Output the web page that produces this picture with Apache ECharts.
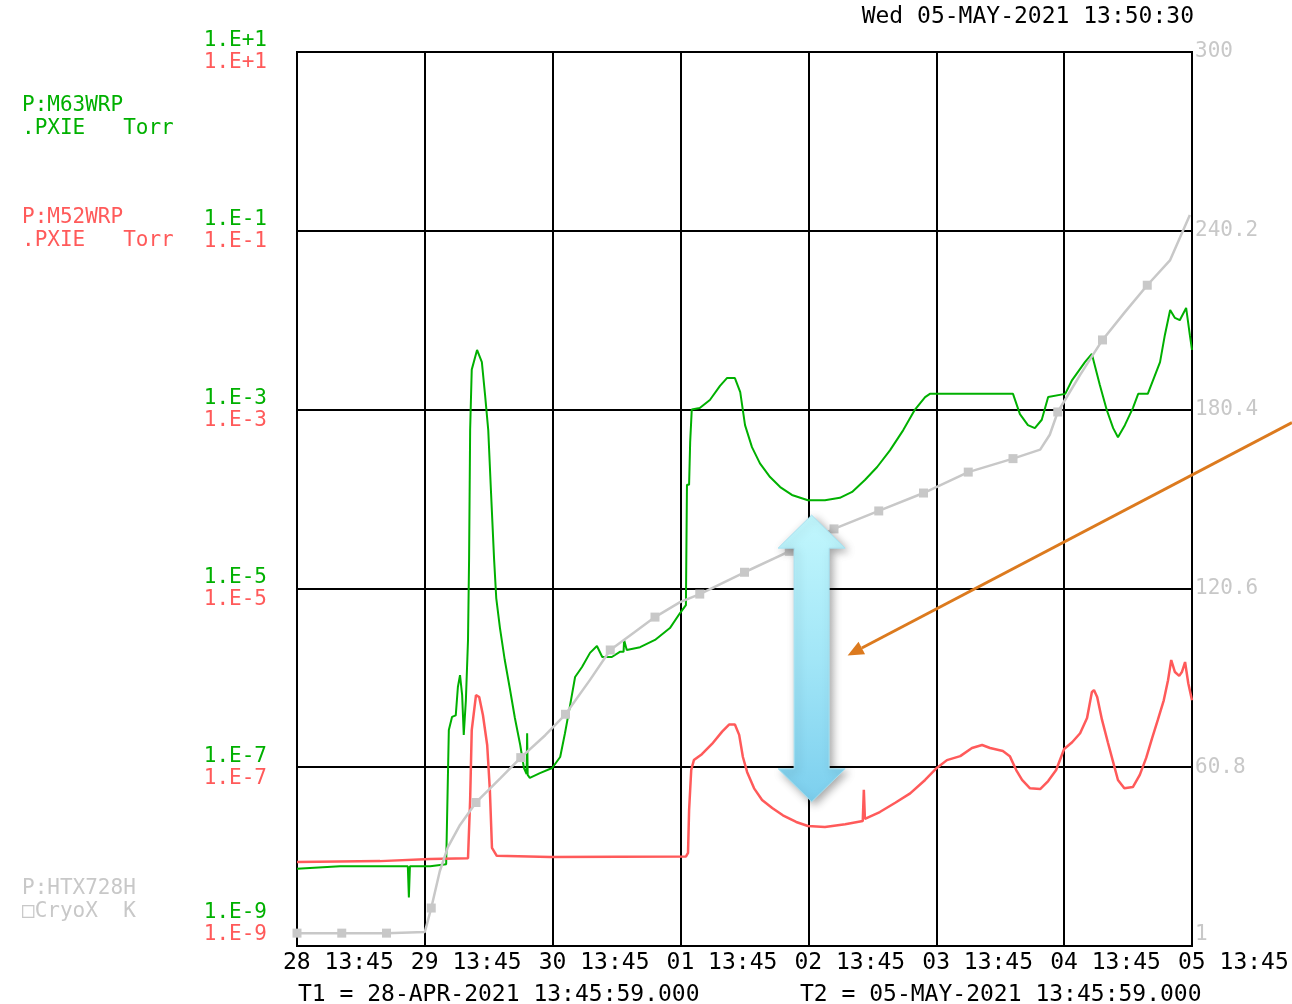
<!DOCTYPE html>
<html>
<head>
<meta charset="utf-8">
<script src="https://cdn.jsdelivr.net/npm/echarts@6/dist/echarts.min.js"></script>
<style>
  html, body { margin: 0; padding: 0; background: #fff; }
  #chart { width: 1292px; height: 1004px; }
</style>
</head>
<body>
<div id="chart"></div>
<script>
// Time axis: hours since T1 (28-APR-2021 13:45:59), one gridline per day
const timeTicks = ['28 13:45', '29 13:45', '30 13:45', '01 13:45', '02 13:45', '03 13:45', '04 13:45', '05 13:45'];
// Right-hand temperature scale (K)
const kelvinTicks = [1, 60.8, 120.6, 180.4, 240.2, 300];

// P:M63WRP.PXIE pressure (Torr)
const m63Hours = [0, 8.1, 20.8, 21.0, 21.2, 25.0, 28.0, 28.5, 29.1, 29.8, 30.2, 30.6, 31.0, 31.3, 31.7, 32.1, 32.3, 32.5, 32.8, 33.8,
  34.7, 35.3, 35.9, 36.4, 37.0, 37.4, 38.1, 39.0, 40.0, 40.9, 41.9, 42.6, 43.1, 43.2, 43.3, 43.7, 45.6, 47.9, 49.4, 50.3,
  51.2, 52.2, 53.5, 55.0, 56.3, 57.3, 59.1, 60.6, 61.3, 61.4, 61.9, 64.4, 67.2, 70.0, 71.9, 73.0, 73.2, 73.6, 73.8, 74.1,
  75.6, 77.5, 79.4, 80.7, 82.2, 83.2, 84.1, 85.4, 86.9, 88.8, 90.7, 92.9, 95.9, 99.1, 101.9, 104.2, 106.6, 108.9, 111.3, 113.8,
  116.0, 117.9, 118.8, 134.4, 135.7, 137.2, 138.5, 139.8, 141.0, 144.2, 145.5, 147.9, 149.2, 150.7, 152.0, 153.2, 154.1, 155.4, 156.9, 157.9,
  159.7, 162.0, 162.9, 163.9, 164.8, 165.7, 166.9, 167.6, 168.0];
const m63Torr = [7.3e-9, 7.8e-9, 7.8e-9, 3.5e-9, 7.8e-9, 7.8e-9, 8.2e-9, 2.6e-7, 3.65e-7, 3.8e-7, 7.9e-7, 1.07e-6, 6.4e-7, 2.3e-7, 5.6e-7, 2.65e-6, 2.1e-5, 5.9e-4, 2.8e-3, 4.65e-3,
  3.4e-3, 1.46e-3, 5.9e-4, 1.26e-4, 2.1e-5, 7.8e-6, 3.6e-6, 1.58e-6, 7.3e-7, 3.55e-7, 1.77e-7, 9.8e-8, 8.4e-8, 2.4e-7, 8.2e-8, 7.6e-8, 8.6e-8, 9.8e-8, 1.3e-7, 2.4e-7,
  4.7e-7, 1.02e-6, 1.32e-6, 1.9e-6, 2.27e-6, 1.71e-6, 1.71e-6, 1.95e-6, 1.95e-6, 2.65e-6, 2.05e-6, 2.2e-6, 2.65e-6, 3.6e-6, 5.3e-6, 6.5e-6, 1.44e-4, 1.44e-4, 4.3e-4, 1.0e-3,
  1.04e-3, 1.28e-3, 1.84e-3, 2.25e-3, 2.25e-3, 1.57e-3, 6.7e-4, 3.8e-4, 2.5e-4, 1.76e-4, 1.36e-4, 1.11e-4, 9.7e-5, 9.7e-5, 1.03e-4, 1.2e-4, 1.63e-4, 2.28e-4, 3.5e-4, 5.9e-4,
  1.0e-3, 1.38e-3, 1.5e-3, 1.5e-3, 8.9e-4, 6.7e-4, 6.2e-4, 7.7e-4, 1.38e-3, 1.5e-3, 2.14e-3, 3.4e-3, 4.2e-3, 1.88e-3, 9.9e-4, 6.2e-4, 4.9e-4, 6.7e-4, 1.04e-3, 1.5e-3,
  1.5e-3, 3.4e-3, 6.8e-3, 1.3e-2, 1.06e-2, 1.0e-2, 1.37e-2, 6.8e-3, 4.65e-3];

// P:M52WRP.PXIE pressure (Torr)
const m52Hours = [0, 15.6, 25.0, 32.1, 32.5, 32.8, 33.6, 34.2, 34.9, 35.7, 36.2, 36.6, 37.5, 47.5, 73.0, 73.4, 73.6, 74.0, 74.5, 76.0,
  77.9, 79.8, 81.1, 82.2, 83.0, 83.7, 84.5, 85.8, 87.3, 89.2, 91.2, 93.7, 95.9, 99.1, 102.9, 106.2, 106.4, 106.6, 109.4, 112.3,
  115.1, 117.9, 120.1, 122.0, 124.5, 126.7, 128.6, 130.1, 132.5, 133.8, 135.0, 136.1, 137.6, 139.5, 141.0, 142.5, 144.0, 145.5, 147.0, 148.3,
  149.2, 149.6, 150.2, 151.1, 152.2, 153.2, 154.1, 155.3, 156.9, 158.2, 159.4, 160.5, 161.6, 162.7, 163.5, 164.1, 164.8, 165.6, 166.1, 166.7,
  167.3, 168.0];
const m52Torr = [8.7e-9, 8.9e-9, 9.4e-9, 9.6e-9, 4.3e-8, 2.6e-7, 6.4e-7, 6.1e-7, 3.84e-7, 1.77e-7, 5.6e-8, 1.25e-8, 1.02e-8, 9.9e-9, 1.0e-8, 1.1e-8, 3.3e-8, 9.3e-8, 1.2e-7, 1.4e-7,
  1.82e-7, 2.5e-7, 3.0e-7, 3.0e-7, 2.3e-7, 1.3e-7, 8.8e-8, 5.8e-8, 4.3e-8, 3.5e-8, 2.9e-8, 2.44e-8, 2.2e-8, 2.14e-8, 2.3e-8, 2.5e-8, 5.6e-8, 2.64e-8, 3.15e-8, 4.0e-8,
  5.1e-8, 7.2e-8, 9.8e-8, 1.2e-7, 1.33e-7, 1.64e-7, 1.77e-7, 1.64e-7, 1.52e-7, 1.33e-7, 9.3e-8, 7.2e-8, 5.8e-8, 5.7e-8, 7.0e-8, 9.3e-8, 1.6e-7, 1.9e-7, 2.4e-7, 3.55e-7,
  6.9e-7, 7.3e-7, 6.1e-7, 3.4e-7, 1.9e-7, 1.14e-7, 7.2e-8, 5.8e-8, 6.0e-8, 8.2e-8, 1.27e-7, 2.1e-7, 3.4e-7, 5.6e-7, 9.4e-7, 1.58e-6, 1.16e-6, 1.05e-6, 1.16e-6, 1.5e-6,
  8.7e-7, 5.6e-7];

// P:HTX728H CryoX temperature (K); logged samples every 8.4 h carry a marker
const htxHours = [0, 8.4, 16.8, 24.0, 25.2, 26.8, 28.3, 30.6, 33.6, 38.1, 42.0, 46.6, 50.4, 55.0, 58.8, 63.4, 67.2, 71.9, 75.6, 84.0,
  92.4, 100.8, 109.2, 117.6, 126.0, 134.4, 139.5, 141.3, 142.8, 147.0, 151.2, 155.4, 159.6, 163.9, 167.6];
const htxKelvin = [5.3, 5.3, 5.3, 5.7, 13.7, 26, 34, 41.5, 49, 57, 64, 71.5, 78.5, 90, 100, 106, 111, 116, 118.7, 126,
  133, 140.5, 146.5, 152.5, 159.5, 164, 167, 172, 179.6, 192, 203.7, 213, 222, 230.4, 245.5];
const htxSampleStep = 8.4;

// Callout: gap between the two gauges at 02 13:45
const gapHour = 96.6;
const gapTopTorr = 6.6e-5;
const gapBottomTorr = 4.1e-8;

const FONT = 'DejaVu Sans Mono';
const GREEN = '#00b000';
const RED = '#ff5a5a';
const GRAY = '#c8c8c8';

function expLabel(v) {
  const e = Math.round(Math.log10(v));
  return '1.E' + (e >= 0 ? '+' : '-') + Math.abs(e);
}

const chart = echarts.init(document.getElementById('chart'), null, { renderer: 'canvas' });

const pair = (xs, ys) => xs.map((x, i) => [x, ys[i]]);

const htxData = htxHours.map((h, i) => {
  const k = h / htxSampleStep;
  const marked = Math.abs(k - Math.round(k)) < 0.02;
  return { value: [h, htxKelvin[i]], symbol: marked ? 'rect' : 'none' };
});

const logAxisBase = {
  type: 'log', logBase: 10, min: 1e-9, max: 10, interval: 2, position: 'left',
  axisLine: { show: false }, axisTick: { show: false }
};

chart.setOption({
  animation: false,
  backgroundColor: '#ffffff',
  grid: { left: 297, top: 52, width: 895, height: 894, show: true, borderColor: '#000', borderWidth: 2 },
  xAxis: {
    type: 'value', min: 0, max: 168, interval: 24,
    axisLine: { show: false }, axisTick: { show: false },
    splitLine: { show: true, lineStyle: { color: '#000', width: 2 } },
    axisLabel: {
      fontFamily: FONT, fontSize: 23, color: '#000', align: 'left', margin: 6,
      padding: [0, 0, 0, -14],
      formatter: v => timeTicks[Math.round(v / 24)]
    }
  },
  yAxis: [
    Object.assign({}, logAxisBase, {
      splitLine: { show: true, lineStyle: { color: '#000', width: 2 } },
      axisLabel: {
        fontFamily: FONT, fontSize: 21, color: GREEN, margin: 30, lineHeight: 22, verticalAlign: 'middle',
        formatter: v => Math.round(Math.log10(v)) === -9 ? expLabel(v) + '\n\n\n' : expLabel(v) + '\n'
      }
    }),
    Object.assign({}, logAxisBase, {
      splitLine: { show: false },
      axisLabel: {
        fontFamily: FONT, fontSize: 21, color: RED, margin: 30, lineHeight: 22, verticalAlign: 'middle',
        formatter: v => Math.round(Math.log10(v)) === -9 ? expLabel(v) + '\n' : '\n' + expLabel(v)
      }
    }),
    {
      type: 'value', min: 1, max: 300, interval: 59.8, position: 'right',
      axisLine: { show: false }, axisTick: { show: false }, splitLine: { show: false },
      axisLabel: {
        fontFamily: FONT, fontSize: 21, color: GRAY, margin: 3, lineHeight: 22, verticalAlign: 'middle',
        formatter: v => {
          const t = kelvinTicks.reduce((a, b) => Math.abs(b - v) < Math.abs(a - v) ? b : a);
          return t === 1 ? '1\n' : String(t);
        }
      }
    }
  ],
  series: [
    {
      name: 'P:M63WRP', type: 'line', yAxisIndex: 0, data: pair(m63Hours, m63Torr),
      showSymbol: false, lineStyle: { color: GREEN, width: 2 }, z: 3
    },
    {
      name: 'P:M52WRP', type: 'line', yAxisIndex: 1, data: pair(m52Hours, m52Torr),
      showSymbol: false, lineStyle: { color: RED, width: 2.5 }, z: 4
    },
    {
      name: 'P:HTX728H', type: 'line', yAxisIndex: 2, data: htxData,
      showAllSymbol: true, symbolSize: 9, itemStyle: { color: GRAY },
      lineStyle: { color: GRAY, width: 2.5 }, z: 5
    }
  ]
});

// Annotation geometry, positioned from data coordinates
const topPt = chart.convertToPixel({ xAxisIndex: 0, yAxisIndex: 0 }, [gapHour, gapTopTorr]);
const botPt = chart.convertToPixel({ xAxisIndex: 0, yAxisIndex: 0 }, [gapHour, gapBottomTorr]);
const cx = topPt[0], y0 = topPt[1], y1 = botPt[1];
const headLen = 33, headHalf = 33.5, shaftHalf = 17.5;
const arrowPts = [
  [cx, y0], [cx + headHalf, y0 + headLen], [cx + shaftHalf, y0 + headLen],
  [cx + shaftHalf, y1 - headLen], [cx + headHalf, y1 - headLen], [cx, y1],
  [cx - headHalf, y1 - headLen], [cx - shaftHalf, y1 - headLen],
  [cx - shaftHalf, y0 + headLen], [cx - headHalf, y0 + headLen]
];
const midY = (y0 + y1) / 2;
const tip = [cx + 36, midY - 3];
const tail = [1292, midY - 236];
const ang = Math.atan2(tip[1] - tail[1], tip[0] - tail[0]);
const aLen = 16, aHalf = 7;
const back = [tip[0] - aLen * Math.cos(ang), tip[1] - aLen * Math.sin(ang)];
const headPts = [
  tip,
  [back[0] + aHalf * Math.sin(ang), back[1] - aHalf * Math.cos(ang)],
  [back[0] - aHalf * Math.sin(ang), back[1] + aHalf * Math.cos(ang)]
];

function label(text, x, y, color, size, align, weight) {
  return {
    type: 'text', x: x, y: y, silent: true, z: 20,
    style: {
      text: text, fill: color, font: (weight || 'normal') + ' ' + size + 'px "' + FONT + '"',
      align: align || 'left', verticalAlign: 'middle',
      textAlign: align || 'left', textVerticalAlign: 'middle'
    }
  };
}

chart.setOption({
  graphic: [
    label('Wed 05-MAY-2021 13:50:30', 1194, 17, '#000', 23, 'right'),
    label('P:M63WRP', 22, 106, GREEN, 21),
    label('.PXIE   Torr', 22, 129, GREEN, 21),
    label('P:M52WRP', 22, 218, RED, 21),
    label('.PXIE   Torr', 22, 241, RED, 21),
    label('P:HTX728H', 22, 889, GRAY, 21),
    label('\u25A1CryoX  K', 22, 912, GRAY, 21),
    label('T1 = 28-APR-2021 13:45:59.000', 298, 995, '#000', 23),
    label('T2 = 05-MAY-2021 13:45:59.000', 800, 995, '#000', 23),
    {
      type: 'polygon', z: 30, silent: true,
      shape: { points: arrowPts },
      style: {
        fill: {
          type: 'linear', x: 0, y: 0, x2: 0, y2: 1,
          colorStops: [{ offset: 0, color: '#c2f7fd' }, { offset: 0.5, color: '#a2e6f7' }, { offset: 1, color: '#7ccfee' }]
        },
        stroke: '#a6e2f2', lineWidth: 1,
        shadowBlur: 8, shadowColor: 'rgba(0,0,0,0.35)', shadowOffsetX: 3, shadowOffsetY: 3
      }
    },
    {
      type: 'line', z: 31, silent: true,
      shape: { x1: tail[0], y1: tail[1], x2: back[0], y2: back[1] },
      style: { stroke: '#dc7a1e', lineWidth: 3 }
    },
    {
      type: 'polygon', z: 31, silent: true,
      shape: { points: headPts },
      style: { fill: '#dc7a1e' }
    }
  ]
});
</script>
</body>
</html>
